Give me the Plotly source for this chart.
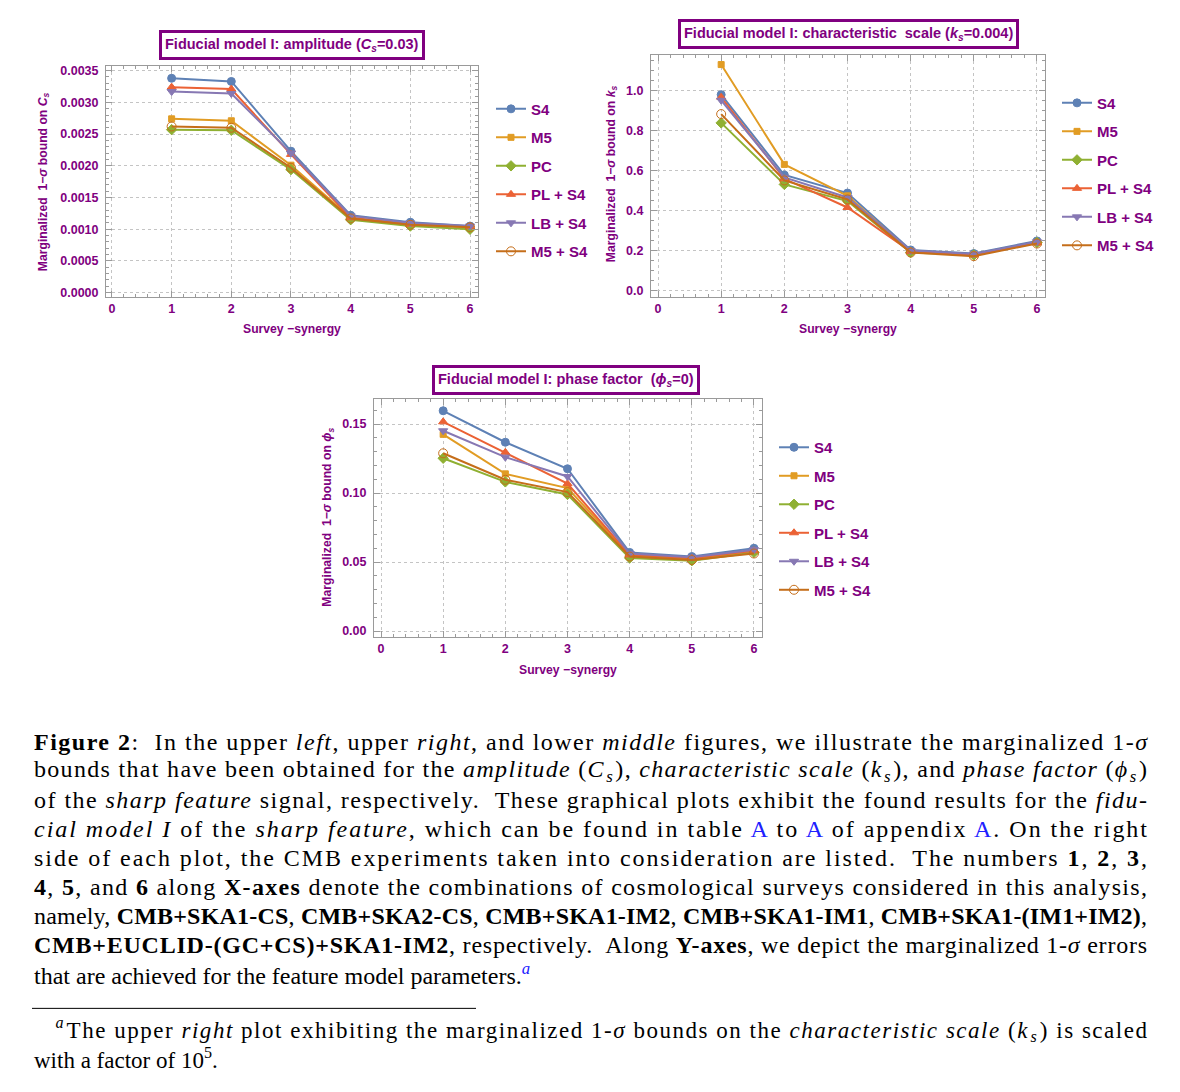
import json
import plotly.graph_objects as go

W, H = 1180, 1092
PURPLE = "#800080"

# ---------------- data ----------------
surveys = [1, 2, 3, 4, 5, 6]
experiments = ["S4", "M5", "PC", "PL + S4", "LB + S4", "M5 + S4"]

# amplitude C_s bounds
cs_S4   = [0.00338, 0.00333, 0.00223, 0.00122, 0.00111, 0.00105]
cs_M5   = [0.00274, 0.00271, 0.00201, 0.00118, 0.00108, 0.00103]
cs_PC   = [0.00257, 0.00256, 0.00194, 0.00115, 0.00105, 0.00100]
cs_PLS4 = [0.00324, 0.00321, 0.00218, 0.00118, 0.00108, 0.00104]
cs_LBS4 = [0.00317, 0.00314, 0.00220, 0.00121, 0.00110, 0.00105]
cs_M5S4 = [0.00262, 0.00260, 0.00197, 0.00117, 0.00107, 0.00103]

# characteristic scale k_s bounds (x 1e5)
ks_S4   = [0.978, 0.577, 0.487, 0.203, 0.185, 0.248]
ks_M5   = [1.128, 0.630, 0.473, 0.195, 0.180, 0.240]
ks_PC   = [0.837, 0.530, 0.447, 0.190, 0.178, 0.240]
ks_PLS4 = [0.965, 0.558, 0.415, 0.195, 0.178, 0.238]
ks_LBS4 = [0.950, 0.565, 0.465, 0.200, 0.183, 0.244]
ks_M5S4 = [0.881, 0.550, 0.455, 0.190, 0.172, 0.235]

# phase factor phi_s bounds
ph_S4   = [0.1596, 0.1368, 0.1176, 0.0570, 0.0540, 0.0600]
ph_M5   = [0.1425, 0.1139, 0.1036, 0.0550, 0.0522, 0.0578]
ph_PC   = [0.1252, 0.1081, 0.0990, 0.0530, 0.0510, 0.0570]
ph_PLS4 = [0.1516, 0.1295, 0.1068, 0.0552, 0.0528, 0.0582]
ph_LBS4 = [0.1451, 0.1260, 0.1120, 0.0562, 0.0535, 0.0590]
ph_M5S4 = [0.1288, 0.1096, 0.1007, 0.0540, 0.0515, 0.0562]

panels = [
    [cs_S4, cs_M5, cs_PC, cs_PLS4, cs_LBS4, cs_M5S4],
    [ks_S4, ks_M5, ks_PC, ks_PLS4, ks_LBS4, ks_M5S4],
    [ph_S4, ph_M5, ph_PC, ph_PLS4, ph_LBS4, ph_M5S4],
]

colors = ["#5E81B5", "#E19C24", "#8FB032", "#EB6235", "#8778B3", "#C56E1A"]
symbols = ["circle", "square", "diamond", "triangle-up", "triangle-down", "circle-open"]
msizes = [8, 6, 8, 8, 8, 9]

# ---------------- helpers ----------------
def px_x(p):
    return p / W

def px_y(p):
    return 1 - p / H

fig = go.Figure()

legend_names = ["legend", "legend2", "legend3"]
axis_ids = [("x", "y"), ("x2", "y2"), ("x3", "y3")]

for pi, series in enumerate(panels):
    xa, ya = axis_ids[pi]
    for si, vals in enumerate(series):
        fig.add_trace(go.Scatter(
            x=surveys, y=vals, name=experiments[si], mode="lines+markers",
            xaxis=xa, yaxis=ya, legend=legend_names[pi],
            legendgroup=f"g{pi}_{si}",
            line=dict(color=colors[si], width=2),
            marker=dict(symbol=symbols[si], size=msizes[si], color=colors[si],
                        line=dict(color=colors[si], width=1)),
        ))

FRAME = "#9a9a9a"
tickfont = dict(family="Liberation Sans", size=12.5, color=PURPLE, weight="bold")

def xaxis(dom, rng):
    return dict(domain=dom, range=rng, tick0=0, dtick=1, showline=True,
                linecolor=FRAME, linewidth=1, mirror="allticks", ticks="inside",
                ticklen=6, tickcolor=FRAME, showgrid=True, gridcolor="#c4c4c4",
                griddash="dot", gridwidth=1, zeroline=False, tickfont=tickfont,
                ticklabelstandoff=0,
                minor=dict(ticks="inside", ticklen=3, tickcolor=FRAME, dtick=0.2,
                           showgrid=False),
                fixedrange=True)

def yaxis(dom, rng, dt, fmt, mdt, anchor):
    return dict(domain=dom, range=rng, tick0=0, dtick=dt, tickformat=fmt,
                showline=True, linecolor=FRAME, linewidth=1, mirror="allticks",
                ticks="inside", ticklen=6, tickcolor=FRAME, showgrid=True,
                gridcolor="#c4c4c4", griddash="dot", gridwidth=1, zeroline=False,
                tickfont=tickfont, anchor=anchor, ticklabelstandoff=4,
                minor=dict(ticks="inside", ticklen=3, tickcolor=FRAME, dtick=mdt,
                           showgrid=False),
                fixedrange=True)

fig.update_layout(
    width=W, height=H, autosize=False,
    margin=dict(l=0, r=0, t=0, b=0),
    paper_bgcolor="white", plot_bgcolor="white",
    xaxis=xaxis([px_x(106), px_x(478)], [-0.10, 6.134]) | dict(anchor="y"),
    yaxis=yaxis([px_y(296), px_y(64)], [-0.0000628, 0.003578], 0.0005, ".4f", 0.0001, "x"),
    xaxis2=xaxis([px_x(651), px_x(1045)], [-0.111, 6.127]) | dict(anchor="y2"),
    yaxis2=yaxis([px_y(296), px_y(53)], [-0.03, 1.177], 0.2, ".1f", 0.05, "x2"),
    xaxis3=xaxis([px_x(374), px_x(762)], [-0.1126, 6.129]) | dict(anchor="y3"),
    yaxis3=yaxis([px_y(638), px_y(399)], [-0.00433, 0.1680], 0.05, ".2f", 0.01, "x3"),
)

legfont = dict(family="Liberation Sans", size=15, color=PURPLE, weight="bold")
leg_common = dict(font=legfont, bgcolor="rgba(0,0,0,0)", tracegroupgap=6,
                  xanchor="left", yanchor="top", itemwidth=30)
fig.update_layout(
    legend=dict(x=px_x(491), y=px_y(91), **leg_common),
    legend2=dict(x=px_x(1057), y=px_y(85), **leg_common),
    legend3=dict(x=px_x(774), y=px_y(431), **leg_common),
)

annotations = []

# panel titles in boxes
titles = [
    ("Fiducial model I: amplitude (<i>C<sub>s</sub></i>=0.03)", 291.5, 43),
    ("Fiducial model I: characteristic  scale (<i>k<sub>s</sub></i>=0.004)", 848, 32),
    ("Fiducial model I: phase factor  (<i>ϕ<sub>s</sub></i>=0)", 566, 380),
]
for t, cx, cy in titles:
    annotations.append(dict(
        text=t, x=px_x(cx), y=px_y(cy), xref="paper", yref="paper",
        xanchor="center", yanchor="middle", showarrow=False,
        font=dict(family="Liberation Sans", size=14.5, color=PURPLE, weight="bold"),
        bordercolor=PURPLE, borderwidth=3, borderpad=3, bgcolor="white"))

axfont = dict(family="Liberation Sans", size=12.2, color=PURPLE, weight="bold")
ytitles = [
    ("Marginalized  1−<i>σ</i> bound on <i>C<sub>s</sub></i>", 44, 181),
    ("Marginalized  1−<i>σ</i> bound on <i>k<sub>s</sub></i>", 612, 173),
    ("Marginalized  1−<i>σ</i> bound on <i>ϕ<sub>s</sub></i>", 328, 518),
]
for t, cx, cy in ytitles:
    annotations.append(dict(
        text=t, x=px_x(cx), y=px_y(cy), xref="paper", yref="paper",
        xanchor="center", yanchor="middle", textangle=-90, showarrow=False,
        font=axfont))
for cx, cy in [(292, 329), (848, 329), (568, 671)]:
    annotations.append(dict(
        text="Survey −synergy", x=px_x(cx), y=px_y(cy), xref="paper", yref="paper",
        xanchor="center", yanchor="middle", showarrow=False, font=axfont))

# caption
BLUE = "<span style='color:#2020ff'>"
caption_lines = [
    "<b>Figure 2</b>:  In the upper <i>left</i>, upper <i>right</i>, and lower <i>middle</i> figures, we illustrate the marginalized 1-<i>σ</i>",
    "bounds that have been obtained for the <i>amplitude</i> (<i>C<sub>s</sub></i>), <i>characteristic scale</i> (<i>k<sub>s</sub></i>), and <i>phase factor</i> (<i>ϕ<sub>s</sub></i>)",
    "of the <i>sharp feature</i> signal, respectively.  These graphical plots exhibit the found results for the <i>fidu-</i>",
    f"<i>cial model I</i> of the <i>sharp feature</i>, which can be found in table {BLUE}A</span> to {BLUE}A</span> of appendix {BLUE}A</span>. On the right",
    "side of each plot, the CMB experiments taken into consideration are listed.  The numbers <b>1</b>, <b>2</b>, <b>3</b>,",
    "<b>4</b>, <b>5</b>, and <b>6</b> along <b>X-axes</b> denote the combinations of cosmological surveys considered in this analysis,",
    "namely, <b>CMB+SKA1-CS</b>, <b>CMB+SKA2-CS</b>, <b>CMB+SKA1-IM2</b>, <b>CMB+SKA1-IM1</b>, <b>CMB+SKA1-(IM1+IM2)</b>,",
    "<b>CMB+EUCLID-(GC+CS)+SKA1-IM2</b>, respectively.  Along <b>Y-axes</b>, we depict the marginalized 1-<i>σ</i> errors",
    f"that are achieved for the feature model parameters.<sup>{BLUE}<i>a</i></span></sup>",
]
capfont = dict(family="Liberation Serif", size=24, color="black")
justify = {}
for i, line in enumerate(caption_lines):
    if i < len(caption_lines) - 1:
        justify[len(annotations)] = 1113
    annotations.append(dict(
        text=line, x=px_x(32), y=px_y(743 + i * 29.2), xref="paper", yref="paper",
        xanchor="left", yanchor="middle", showarrow=False, align="left", font=capfont))

foot_lines = [
    ("<sup><i>a</i></sup>The upper <i>right</i> plot exhibiting the marginalized 1-<i>σ</i> bounds on the <i>characteristic scale</i> (<i>k<sub>s</sub></i>) is scaled", 52, 1032, 1093),
    ("with a factor of 10<sup>5</sup>.", 32, 1061, None),
]
for t, x0, yc, jw in foot_lines:
    if jw:
        justify[len(annotations)] = jw
    annotations.append(dict(
        text=t, x=px_x(x0), y=px_y(yc), xref="paper", yref="paper",
        xanchor="left", yanchor="middle", showarrow=False, align="left",
        font=dict(family="Liberation Serif", size=23, color="black")))

fig.update_layout(annotations=annotations)

fig.update_layout(shapes=[
    dict(type="line", xref="paper", yref="paper", x0=px_x(32), x1=px_x(476),
         y0=px_y(1011), y1=px_y(1011), line=dict(color="black", width=1)),
])

# justify caption lines (like the typeset original) by stretching letter spacing
post = """
var gd = document.getElementById('{plot_id}');
var targets = %s;
gd.querySelectorAll('g.annotation').forEach(function(g){
  var i = g.getAttribute('data-index');
  if (targets.hasOwnProperty(i)) {
    var t = g.querySelector('text.annotation-text');
    if (t) {
      var w = t.getComputedTextLength();
      var goal = targets[i];
      if (Math.abs(w - goal) < 0.35 * goal) {
        t.setAttribute('textLength', goal);
        t.setAttribute('lengthAdjust', 'spacing');
      }
    }
  }
});
""" % json.dumps({str(k): v for k, v in justify.items()})

fig.write_html("out.html", config={"displayModeBar": False}, post_script=post)
